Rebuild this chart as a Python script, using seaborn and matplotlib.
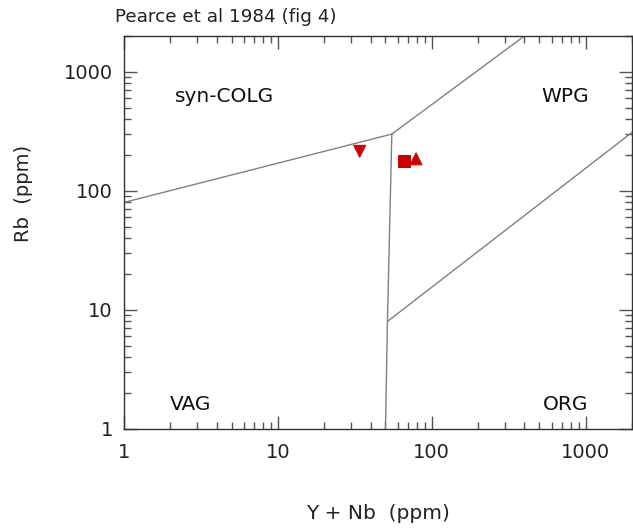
import numpy as np
import pandas as pd
import matplotlib
matplotlib.use("Agg")
import matplotlib.pyplot as plt
import matplotlib.ticker as mticker
import seaborn as sns

# ==========================
# Data
# ==========================
# Pearce et al. (1984) field boundaries (Y+Nb, Rb)
colg_vag_x = [1, 55]
colg_vag_y = [80, 300]
colg_wpg_x = [55, 400]
colg_wpg_y = [300, 2000]
vag_split_x = [55, 51.5, 50]
vag_split_y = [300, 8, 1]
org_wpg_x = [51.5, 2000]
org_wpg_y = [8, 310]

# samples
sample_names = ["A", "B", "C"]
sample_ynb = [34, 66, 79]
sample_rb = [215, 179, 186]
sample_markers = ["v", "s", "^"]

field_names = ["syn-COLG", "WPG", "VAG", "ORG"]
field_x = [4.5, 740, 2.7, 740]
field_y = [620, 620, 1.6, 1.6]

# ==========================
# Plot
# ==========================
sns.set_style("ticks")
plt.rcParams["font.family"] = ["DejaVu Sans"]

fig = plt.figure(figsize=(6.33, 5.28), dpi=100)
ax = fig.add_axes([124 / 633, 99 / 528, 508 / 633, 393 / 528])

line_kw = dict(color="#808080", lw=1.0)
for xs, ys in [(colg_vag_x, colg_vag_y), (colg_wpg_x, colg_wpg_y),
               (vag_split_x, vag_split_y), (org_wpg_x, org_wpg_y)]:
    ax.plot(xs, ys, **line_kw)

df = pd.DataFrame({"name": sample_names, "ynb": sample_ynb, "rb": sample_rb})
sns.scatterplot(data=df, x="ynb", y="rb", style="name",
                markers=dict(zip(sample_names, sample_markers)),
                color="#cc0000", edgecolor="#cc0000", s=75, ax=ax, legend=False, zorder=3)

for name, fx, fy in zip(field_names, field_x, field_y):
    ax.text(fx, fy, name, ha="center", va="center", fontsize=14.5, color="#111111")

ax.set_xscale("log")
ax.set_yscale("log")
ax.set_xlim(1, 2000)
ax.set_ylim(1, 2000)

ax.xaxis.set_major_locator(mticker.FixedLocator([1, 10, 100, 1000]))
ax.yaxis.set_major_locator(mticker.FixedLocator([1, 10, 100, 1000]))
ax.xaxis.set_major_formatter(mticker.FixedFormatter(["1", "10", "100", "1000"]))
ax.yaxis.set_major_formatter(mticker.FixedFormatter(["1", "10", "100", "1000"]))
ax.xaxis.set_minor_locator(mticker.LogLocator(base=10, subs=np.arange(2, 10)))
ax.yaxis.set_minor_locator(mticker.LogLocator(base=10, subs=np.arange(2, 10)))
ax.xaxis.set_minor_formatter(mticker.NullFormatter())
ax.yaxis.set_minor_formatter(mticker.NullFormatter())

ax.tick_params(which="both", direction="in", top=True, right=True,
               color="#555555", labelsize=14, labelcolor="#222222")
ax.tick_params(which="major", length=9.5, width=1)
ax.tick_params(which="minor", length=5, width=1)
ax.tick_params(axis="x", pad=10)
ax.tick_params(axis="y", pad=8)

for sp in ax.spines.values():
    sp.set_color("#333333")
    sp.set_linewidth(1)

ax.set_xlabel("Y + Nb  (ppm)", fontsize=14.5, color="#222222")
ax.set_ylabel("Rb  (ppm)", fontsize=14, color="#222222")
ax.xaxis.set_label_coords(0.5, -0.19)
ax.yaxis.set_label_coords(-0.18, 0.6)

fig.text(115 / 633, 1 - 17 / 528, "Pearce et al 1984 (fig 4)", fontsize=13.2,
         ha="left", va="center", color="#222222")

fig.savefig("out.png", dpi=100)
